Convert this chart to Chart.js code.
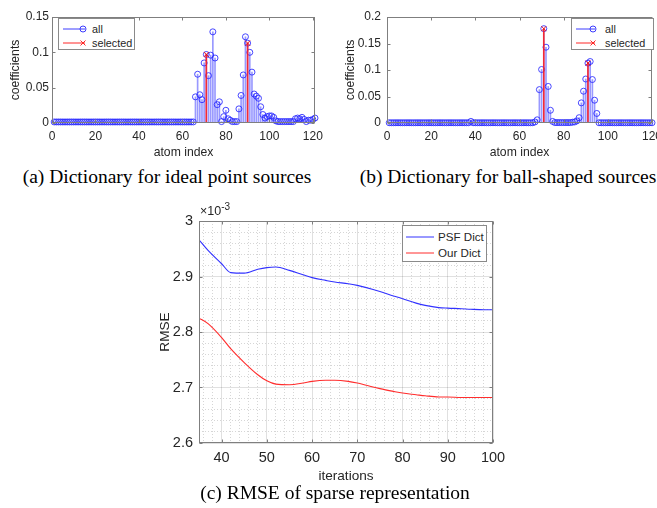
<!DOCTYPE html>
<html><head><meta charset="utf-8">
<script src="https://cdn.jsdelivr.net/npm/chart.js@4"></script>
<style>
html,body{margin:0;padding:0;background:#fff}
body{width:657px;height:508px;position:relative;overflow:hidden;font-family:"Liberation Sans",Arial,sans-serif;color:#262626}
.abs{position:absolute}
canvas{display:block}
.cap{position:absolute;font-family:"Liberation Serif","Times New Roman",serif;font-size:19.5px;white-space:nowrap;transform:translate(-50%,-50%);color:#000;line-height:1}
.leg{position:absolute;border:1px solid #8a8a8a;background:#fff;box-sizing:border-box}
.leg .row{position:absolute;white-space:nowrap;line-height:1;transform:translateY(-50%)}
.leg svg{position:absolute;overflow:visible}
</style>
</head><body>

<div class="abs" id="wrapA" style="left:0;top:0"><canvas id="cA" width="330" height="165"></canvas></div>
<div class="abs" id="wrapB" style="left:330px;top:0"><canvas id="cB" width="327" height="165"></canvas></div>
<div class="abs" id="wrapC" style="left:150px;top:200px"><canvas id="cC" width="360" height="285"></canvas></div>

<div class="cap" style="left:167px;top:177px">(a) Dictionary for ideal point sources</div>
<div class="cap" style="left:508px;top:177px">(b) Dictionary for ball-shaped sources</div>
<div class="cap" style="left:335px;top:493px">(c) RMSE of sparse representation</div>
<div class="abs" style="left:200px;top:204px;font-size:12.5px;color:#262626;white-space:nowrap">×10<span style="font-size:10px;position:relative;top:-5px">-3</span></div>

<script>
// ---------------- data ----------------
// (a) Dictionary for ideal point sources: atoms 1..121
const atomIdxA = Array.from({length:121}, (_, i) => i + 1);
const coefA = [
 0.0015,0.0015,0.0015,0.0015,0.0015,0.0015,0.0015,0.0015,0.0015,0.0015,
 0.0015,0.0015,0.0015,0.0015,0.0015,0.0015,0.0015,0.0015,0.0015,0.0015,
 0.0015,0.0015,0.0015,0.0015,0.0015,0.0015,0.0015,0.0015,0.0015,0.0015,
 0.0015,0.0015,0.0015,0.0015,0.0015,0.0015,0.0015,0.0015,0.0015,0.0015,
 0.0015,0.0015,0.0015,0.0015,0.0015,0.0015,0.0015,0.0015,0.0015,0.0015,
 0.0015,0.0015,0.0015,0.0015,0.0015,0.0015,0.0015,0.0015,0.0015,0.0015,
 0.0015,0.0015,0.0015,0.0015,0.0015,
 0.037,0.069,0.040,0.033,0.085,0.097,0.067,0.096,0.129,0.092,
 0.026,0.030,0.002,0.009,0.018,0.006,0.004,0.002,0.002,0.002,
 0.020,0.039,0.068,0.122,0.113,0.100,0.072,0.041,0.038,0.035,
 0.023,0.012,0.007,0.009,0.010,0.010,0.008,0.003,0.002,0.002,
 0.002,0.002,0.002,0.002,0.002,0.002,0.006,0.007,0.006,0.008,
 0.005,0.002,0.004,0.004,0.005,0.007
];
const selIdxA = [71, 90];
const selCoefA = [0.097, 0.113];
const xTicksA = [0, 20, 40, 60, 80, 100, 120];
const yTicksA = [0, 0.05, 0.1, 0.15];
const yTickLabelsA = ['0', '0.05', '0.1', '0.15'];

// (b) Dictionary for ball-shaped sources: atoms 1..120
const atomIdxB = Array.from({length:120}, (_, i) => i + 1);
const coefB = [
 0.0005,0.0005,0.0005,0.0005,0.0005,0.0005,0.0005,0.0005,0.0005,0.0005,
 0.0005,0.0005,0.0005,0.0005,0.0005,0.0005,0.0005,0.0005,0.0005,0.0005,
 0.0005,0.0005,0.0005,0.0005,0.0005,0.0005,0.0005,0.0005,0.0005,0.0005,
 0.0005,0.0005,0.0005,0.0005,0.0005,0.0005,0.0005,0.003,0.0005,0.0005,
 0.0005,0.0005,0.0005,0.0005,0.0005,0.0005,0.0005,0.0005,0.0005,0.0005,
 0.0005,0.0005,0.0005,0.0005,0.0005,0.0005,0.0005,0.0005,0.0005,0.0005,
 0.0005,0.0005,0.0005,0.0005,0.0005,0.0005,0.002,0.006,0.063,0.101,
 0.178,0.143,0.069,0.024,0.003,0.0008,0.0008,0.0008,0.0008,0.0008,
 0.0008,0.0008,0.0008,0.0015,0.002,0.004,0.010,0.038,0.060,0.083,
 0.113,0.116,0.082,0.043,0.018,0.0005,0.0005,0.0005,0.0005,0.0005,
 0.0005,0.0005,0.0005,0.0005,0.0005,0.0005,0.0005,0.0005,0.0005,0.0005,
 0.0005,0.0005,0.0005,0.0005,0.0005,0.0005,0.0005,0.0005,0.0005,0.0005
];
const selIdxB = [71, 91];
const selCoefB = [0.178, 0.113];
const xTicksB = [0, 20, 40, 60, 80, 100, 120];
const yTicksB = [0, 0.05, 0.1, 0.15, 0.2];
const yTickLabelsB = ['0', '0.05', '0.1', '0.15', '0.2'];

// (c) RMSE of sparse representation (values in units of 1e-3)
const iterations = [35,37,40,42,45,48,50,52,55,58,60,63,65,68,70,72,75,78,80,83,85,88,90,93,95,98,100];
const rmsePSF = [2.966,2.947,2.923,2.907,2.906,2.913,2.916,2.917,2.911,2.903,2.898,2.893,2.890,2.887,2.884,2.880,2.873,2.865,2.860,2.852,2.848,2.844,2.843,2.842,2.841,2.840,2.840];
const rmseOur = [2.825,2.815,2.790,2.770,2.745,2.723,2.712,2.706,2.705,2.708,2.711,2.713,2.713,2.711,2.708,2.704,2.698,2.693,2.690,2.687,2.685,2.683,2.683,2.682,2.682,2.682,2.682];
const xTicksC = [40, 50, 60, 70, 80, 90, 100];
const yTicksC = [2.6, 2.7, 2.8, 2.9, 3.0];
const yTickLabelsC = ['2.6', '2.7', '2.8', '2.9', '3'];
const seriesNamesC = ['PSF Dict', 'Our Dict'];

// ---------------- helpers ----------------
Chart.defaults.font.family = '"Liberation Sans", Arial, sans-serif';
Chart.defaults.color = '#262626';

const matlabAxes = {
  id: 'matlabAxes',
  afterDatasetsDraw(chart, args, o) {
    const {ctx, chartArea: a, scales} = chart;
    const L = o.tickLen || 3;
    ctx.save();
    ctx.strokeStyle = o.color || '#7a7a7a';
    ctx.lineWidth = 1;
    ctx.beginPath();
    const l = Math.round(a.left) + 0.5, r = Math.round(a.right) - 0.5;
    const t = Math.round(a.top) + 0.5, b = Math.round(a.bottom) - 0.5;
    scales.x.ticks.forEach(tk => {
      const p = Math.round(scales.x.getPixelForValue(tk.value)) + 0.5;
      ctx.moveTo(p, b); ctx.lineTo(p, b - L);
      ctx.moveTo(p, t); ctx.lineTo(p, t + L);
    });
    scales.y.ticks.forEach(tk => {
      const p = Math.round(scales.y.getPixelForValue(tk.value)) + 0.5;
      ctx.moveTo(l, p); ctx.lineTo(l + L, p);
      ctx.moveTo(r, p); ctx.lineTo(r - L, p);
    });
    ctx.stroke();
    ctx.strokeRect(l, t, r - l, b - t);
    ctx.restore();
  }
};

function fixTicks(list) {
  return s => { s.ticks = list.map(v => ({value: v})); };
}

function stemChart(canvasId, idx, coef, selIdx, selCoef, xMax, yMax, xTicks, yTicks, yLabels, lay) {
  const pts = idx.map((x, i) => ({x, y: coef[i]}));
  const sel = selIdx.map((x, i) => ({x, y: selCoef[i]}));
  return new Chart(document.getElementById(canvasId), {
    type: 'bar',
    data: {
      datasets: [
        {type:'bar', data: pts, backgroundColor:'rgba(70,70,255,0.55)', barThickness:1, borderWidth:0, grouped:false, order:4},
        {type:'line', data: pts, showLine:false, pointStyle:'circle', pointRadius:3, pointBorderWidth:1,
         pointBorderColor:'rgba(40,40,255,0.85)', pointBackgroundColor:'rgba(0,0,0,0)', clip:false, order:3},
        {type:'bar', data: sel, backgroundColor:'rgba(255,30,30,0.9)', barThickness:1, borderWidth:0, grouped:false, order:2},
        {type:'line', data: sel, showLine:false, pointStyle:'crossRot', pointRadius:3.5, pointBorderWidth:1,
         pointBorderColor:'rgba(240,20,20,0.95)', clip:false, order:1}
      ]
    },
    options: {
      responsive:false, animation:false, events:[],
      layout:{padding:{left:0, right:lay.padRight, top:17, bottom:0}},
      plugins:{legend:{display:false}, tooltip:{enabled:false}, matlabAxes:{tickLen:3, color:'#7f7f7f'}},
      scales:{
        x:{type:'linear', min:0, max:xMax, offset:false,
           grid:{display:false, drawTicks:false, offset:false}, border:{display:false},
           afterBuildTicks: fixTicks(xTicks),
           ticks:{font:{size:12}, color:'#262626', padding:6.5, autoSkip:false, maxRotation:0},
           title:{display:true, text:'atom index', font:{size:12.2}, color:'#262626', padding:{top:0,bottom:4.8}},
           afterFit: s => { s.height = 42; s.paddingLeft = 0; s.paddingRight = 0; }},
        y:{type:'linear', min:0, max:yMax,
           grid:{display:false, drawTicks:false}, border:{display:false},
           afterBuildTicks: fixTicks(yTicks),
           ticks:{font:{size:12}, color:'#262626', padding:lay.yPad, callback:(v, i) => yLabels[i]},
           title:{display:true, text:'coefficients', font:{size:12.2}, color:'#262626', padding:{top:lay.yTitlePad, bottom:0}},
           afterFit: s => { s.width = lay.yWidth; s.paddingTop = 0; s.paddingBottom = 0; }}
      }
    },
    plugins:[matlabAxes]
  });
}

stemChart('cA', atomIdxA, coefA, selIdxA, selCoefA, 121, 0.15, xTicksA, yTicksA, yTickLabelsA,
          {padRight:15, yWidth:52, yPad:3, yTitlePad:8});
stemChart('cB', atomIdxB, coefB, selIdxB, selCoefB, 120, 0.2, xTicksB, yTicksB, yTickLabelsB,
          {padRight:3, yWidth:57, yPad:6, yTitlePad:13.5});

// (c)
const colorsC = ['rgb(50,50,255)', 'rgb(255,45,45)'];
const minorX = []; for (let v = 36; v < 100; v += 2) if (v % 10) minorX.push(v);
const minorY = []; for (let k = 131; k < 150; k++) if (k % 5) minorY.push(k / 50);
new Chart(document.getElementById('cC'), {
  type:'line',
  data:{
    datasets:[
      {label:seriesNamesC[0], data: iterations.map((x,i)=>({x, y:rmsePSF[i]})), borderColor:colorsC[0], borderWidth:1.1, pointRadius:0, cubicInterpolationMode:'monotone', fill:false},
      {label:seriesNamesC[1], data: iterations.map((x,i)=>({x, y:rmseOur[i]})), borderColor:colorsC[1], borderWidth:1.1, pointRadius:0, cubicInterpolationMode:'monotone', fill:false}
    ]
  },
  options:{
    responsive:false, animation:false, events:[],
    layout:{padding:{left:0, right:17, top:21, bottom:0}},
    plugins:{legend:{display:false}, tooltip:{enabled:false}, matlabAxes:{tickLen:3, color:'#7f7f7f'}},
    scales:{
      xm:{type:'linear', position:'bottom', min:35, max:100, afterBuildTicks: fixTicks(minorX),
          grid:{color:'rgba(0,0,0,0.16)', drawTicks:false}, border:{display:false, dash:[1,2]},
          ticks:{display:false}, afterFit: s => { s.height = 0; s.paddingLeft = 0; s.paddingRight = 0; }},
      ym:{type:'linear', position:'left', min:2.6, max:3.0, afterBuildTicks: fixTicks(minorY),
          grid:{color:'rgba(0,0,0,0.16)', drawTicks:false}, border:{display:false, dash:[1,2]},
          ticks:{display:false}, afterFit: s => { s.width = 0; s.paddingTop = 0; s.paddingBottom = 0; }},
      x:{type:'linear', position:'bottom', min:35, max:100, afterBuildTicks: fixTicks(xTicksC),
         grid:{color:'rgba(0,0,0,0.12)', drawTicks:false}, border:{display:false},
         ticks:{font:{size:14.5}, color:'#262626', padding:6.3, autoSkip:false, maxRotation:0},
         title:{display:true, text:'iterations', font:{size:13.6}, color:'#262626', padding:{top:0,bottom:0.3}},
         afterFit: s => { s.height = 42; s.paddingLeft = 0; s.paddingRight = 0; }},
      y:{type:'linear', position:'left', min:2.6, max:3.0, afterBuildTicks: fixTicks(yTicksC),
         grid:{color:'rgba(0,0,0,0.12)', drawTicks:false}, border:{display:false},
         ticks:{font:{size:14.5}, color:'#262626', padding:6, callback:(v,i)=>yTickLabelsC[i]},
         title:{display:true, text:'RMSE', font:{size:13.6}, color:'#262626', padding:{top:6.8,bottom:0}},
         afterFit: s => { s.width = 49; s.paddingTop = 0; s.paddingBottom = 0; }}
    }
  },
  plugins:[matlabAxes]
});

// ---------------- legends (HTML) ----------------
function legend(box, items, cfg) {
  const d = document.createElement('div');
  d.className = 'leg';
  Object.assign(d.style, {left:box.left+'px', top:box.top+'px', width:box.width+'px', height:box.height+'px', fontSize:cfg.font+'px'});
  items.forEach((it, i) => {
    const y = cfg.rows[i];
    const sv = document.createElementNS('http://www.w3.org/2000/svg', 'svg');
    sv.setAttribute('width', cfg.sampleW + 6); sv.setAttribute('height', 10);
    sv.style.left = (cfg.sampleX - 3) + 'px'; sv.style.top = (y - 5) + 'px';
    let s = `<line x1="3" y1="5" x2="${cfg.sampleW + 3}" y2="5" stroke="${it.color}" stroke-width="1"/>`;
    const mx = cfg.sampleW + 3 - (it.markerInset || 0);
    if (it.marker === 'circle') s += `<circle cx="${mx}" cy="5" r="3" fill="none" stroke="${it.color}" stroke-width="1"/>`;
    if (it.marker === 'x') s += `<path d="M${mx-2.5},2.5L${mx+2.5},7.5M${mx-2.5},7.5L${mx+2.5},2.5" stroke="${it.color}" stroke-width="1"/>`;
    sv.innerHTML = s;
    d.appendChild(sv);
    const t = document.createElement('div');
    t.className = 'row';
    t.style.left = cfg.textX + 'px'; t.style.top = y + 'px';
    t.textContent = it.label;
    d.appendChild(t);
  });
  document.body.appendChild(d);
}
const stemItems = [
  {label:'all', color:'rgb(60,60,255)', marker:'circle', markerInset:2},
  {label:'selected', color:'rgb(255,40,40)', marker:'x', markerInset:2}
];
legend({left:58, top:18, width:77, height:32}, stemItems, {font:10.8, rows:[9.5, 23.5], sampleX:4, sampleW:22, textX:33});
legend({left:571, top:18, width:83, height:32}, stemItems, {font:10.8, rows:[9.5, 23.5], sampleX:4, sampleW:19, textX:33});
legend({left:402, top:225, width:85, height:37},
  seriesNamesC.map((n, i) => ({label:n, color:colorsC[i]})),
  {font:11.6, rows:[10.5, 27], sampleX:3, sampleW:28, textX:35});
</script>
</body></html>
